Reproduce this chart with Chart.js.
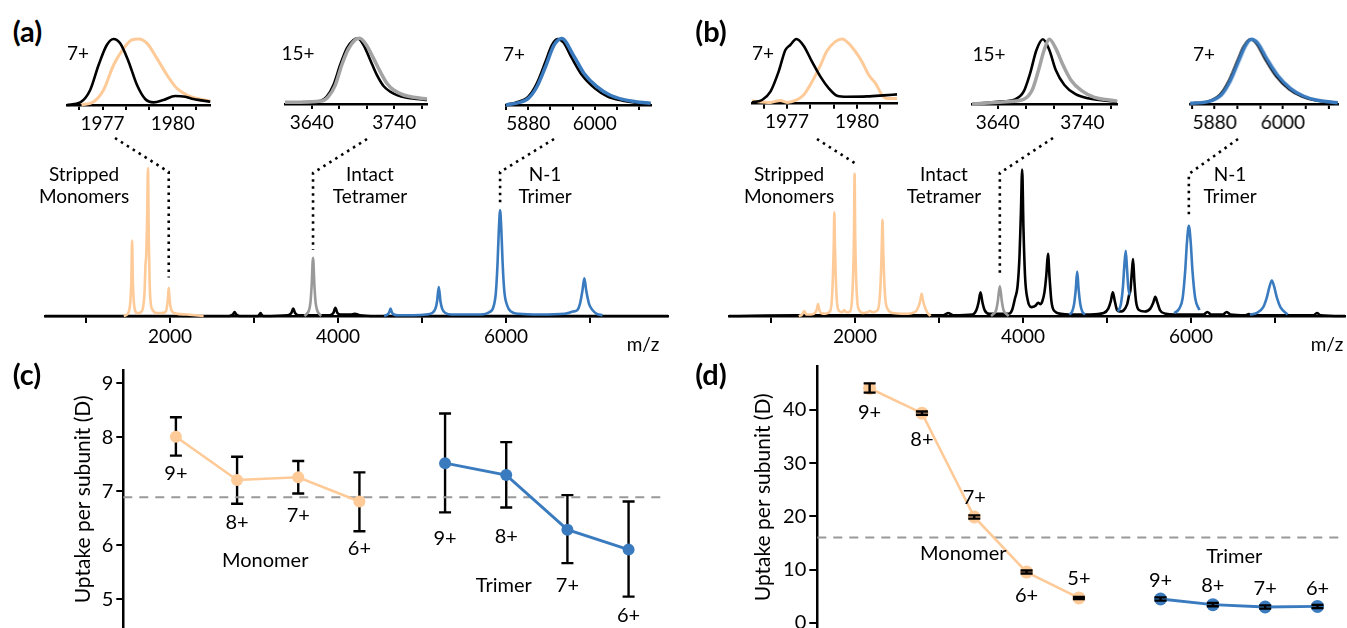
<!DOCTYPE html>
<html>
<head>
<meta charset="utf-8">
<title>Native MS and HDX uptake</title>
<script src="https://cdn.jsdelivr.net/npm/chart.js@4.4.1/dist/chart.umd.min.js"></script>
<style>
  html, body { margin: 0; padding: 0; background: #fff; }
  body { position: relative; width: 1347px; height: 628px; overflow: hidden; font-family: Lato, 'Open Sans', sans-serif; color: #000; }
  .panel { position: absolute; }
  .txt { position: absolute; transform: translate(-50%, -50%); white-space: nowrap; line-height: 1; text-align: center; }
</style>
</head>
<body>
<div class="panel" style="left:0;top:130px;width:673px;height:240px"><canvas id="specA"></canvas></div>
<div class="panel" style="left:680px;top:130px;width:667px;height:240px"><canvas id="specB"></canvas></div>
<div class="panel" style="left:0;top:340px;width:673px;height:310px"><canvas id="uptakeC"></canvas></div>
<div class="panel" style="left:680px;top:340px;width:667px;height:310px"><canvas id="uptakeD"></canvas></div>
<div id="insets"></div>
<div id="texts"></div>

<script>
const ORANGE = '#fdca98';
const BLUE = '#3a7bbf';
const GREY = '#a3a3a3';

// ---- full spectra: [m/z, relative intensity] ----
const specTicks = [1000, 2000, 3000, 4000, 5000, 6000, 7000];
const specTickLabels = [2000, 4000, 6000];

const specAOrange = [[1450,0],[1490,1],[1515,4],[1530,11],[1540,24],[1549,51],[1558,24],[1568,11],[1583,4],[1610,2],[1650,2.5],[1680,6],[1697,16],[1708,34],[1718,42],[1728,66],[1738,100],[1748,50],[1758,22],[1770,9],[1795,4],[1840,2],[1900,2],[1950,3],[1966,7],[1977,13],[1985,19],[1993,13],[2004,7],[2025,3],[2080,1.5],[2200,1],[2400,0]];
const specAGrey = [[3600,0],[3630,1.5],[3655,4],[3672,9],[3686,20],[3703,39.4],[3720,20],[3734,9],[3752,4],[3775,1.5],[3800,0]];
const specABlue = [[4550,0],[4590,1],[4610,2.5],[4626,5],[4642,2.5],[4665,1],[4720,0.5],[4900,0.5],[5050,1],[5120,2],[5160,5],[5180,10],[5200,19.6],[5220,10],[5240,5],[5280,2],[5350,1],[5500,1],[5700,1],[5800,2.5],[5850,6],[5880,16],[5900,36],[5915,58],[5930,71.4],[5945,58],[5960,36],[5980,17],[6015,7],[6060,3],[6150,1.5],[6400,1],[6700,1.5],[6800,3],[6850,4],[6880,8],[6910,17],[6933,25.5],[6956,17],[6990,8],[7030,4],[7080,1.5],[7150,0.5]];
const specABlack = [[512,0],[2700,0],[2750,1],[2769,2.7],[2788,1],[2830,0],[3050,0],[3065,1],[3077,2],[3090,1],[3110,0],[3400,0.5],[3445,2],[3467,5],[3489,2],[3530,0.5],[3900,0.5],[3945,2],[3969,5.5],[3993,2],[4030,1],[4150,1],[4200,1.5],[4260,0.5],[4450,0],[7929,0]];

const specBOrange = [[1330,0],[1370,1],[1396,3.4],[1420,1],[1480,1],[1530,2.5],[1548,5],[1560,8],[1572,5],[1595,2],[1650,1.5],[1700,3],[1722,9],[1738,28],[1747,48],[1754,70],[1761,48],[1770,28],[1786,9],[1810,3.5],[1850,2.5],[1872,4],[1895,2.5],[1940,3],[1963,10],[1979,30],[1988,56],[1995,96],[2002,56],[2011,30],[2027,10],[2050,4],[2100,2],[2150,2.5],[2179,3.4],[2210,2.5],[2270,4],[2295,13],[2311,32],[2319,48],[2327,65],[2335,48],[2343,32],[2359,13],[2385,5],[2450,2],[2600,1.5],[2720,3],[2760,7],[2779,11],[2793,15],[2807,11],[2826,7],[2860,2.5],[2900,0]];
const specBGrey = [[3620,0],[3650,1.5],[3680,4],[3700,10],[3724,20],[3748,10],[3768,4],[3800,1.5],[3830,0]];
const specBBlue = [[4550,1],[4585,3],[4608,8],[4628,18],[4645,30],[4662,18],[4682,8],[4705,3],[4740,1],[4741,null],
  [5130,3],[5165,8],[5190,20],[5206,34],[5223,44],[5238,32],[5252,20],[5270,14],[5271,null],
  [5800,2],[5860,5],[5900,12],[5930,30],[5952,50],[5974,61],[5996,50],[6018,30],[6050,12],[6100,4],[6101,null],
  [6700,1],[6780,2],[6860,6],[6900,12],[6935,20],[6962,24],[6989,20],[7024,12],[7064,6],[7150,1]];
const specBBlack = [[500,0],[1300,0.5],[2900,0.5],[3050,0.5],[3090,1.5],[3110,2],[3130,1.5],[3170,0.5],[3400,1],[3445,4],[3470,9],[3494,16],[3518,9],[3543,4],[3600,1.5],[3830,1.5],[3870,4],[3905,12],[3935,20],[3958,40],[3975,70],[3990,99],[4005,60],[4025,26],[4055,11],[4100,6],[4150,7],[4180,9],[4205,8],[4230,10],[4255,16],[4278,28],[4297,42],[4316,26],[4338,10],[4370,3.5],[4450,1.5],[4550,1],[4800,1],[4960,2],[5015,5],[5045,10],[5069,16],[5093,10],[5120,4],[5150,3],[5240,8],[5262,14],[5280,18],[5296,30],[5310,38.5],[5325,24],[5345,10],[5380,4],[5450,3],[5515,5],[5550,9],[5575,13],[5600,9],[5630,4],[5700,1.5],[5800,1],[6150,1],[6194,2.7],[6240,1],[6380,1],[6425,2.7],[6470,1],[6650,0.5],[6690,1.4],[6730,0.5],[7460,0.5],[7499,2],[7540,0.5],[7833,0]];

// ---- zoomed charge states: [m/z, % of max] ----
const ticks1977 = [1976, 1977, 1978, 1979, 1980, 1981];
const labels1977 = [1977, 1980];
const ticks3640 = [3640, 3673.33, 3706.67, 3740, 3773.33];
const labels3640 = [3640, 3740];
const ticks5880 = [5840, 5880, 5920, 5960, 6000, 6040, 6080];
const labels5880 = [5880, 6000];

const inA1Black = [[1975.48,0],[1976.05,4],[1976.47,22.7],[1976.83,60.6],[1977.18,90.9],[1977.47,100],[1977.75,93.4],[1978.11,65.7],[1978.47,30.3],[1978.82,9.1],[1979.18,4],[1979.6,7.6],[1980.1,13.6],[1980.53,12.6],[1980.88,9.1],[1981.6,5]];
const inA1Orange = [[1976.1,0],[1976.62,5],[1977.04,22.7],[1977.47,60.6],[1977.9,85.9],[1978.25,98.5],[1978.54,100],[1978.9,93.4],[1979.32,70.7],[1979.75,45.5],[1980.17,25.3],[1980.6,15.2],[1981.03,10.1],[1981.6,6.1]];
const inA2Black = [[3607.6,2.5],[3650.1,4.6],[3658.2,11.2],[3666.3,28.9],[3674.4,59.4],[3682.5,84.8],[3690.6,97.5],[3695.5,100],[3702.8,89.8],[3710.9,67],[3718.9,44.2],[3727,27.4],[3735.1,18.8],[3743.2,13.7],[3755.4,9.6],[3767.5,7.6],[3779.7,6.1]];
const inA2Grey = [[3607.6,2.5],[3652.1,4.6],[3660.2,11.2],[3668.3,27.9],[3676.4,59.4],[3684.5,83.8],[3692.6,97.5],[3697.9,100],[3706.8,88.8],[3714.9,69.5],[3723,49.2],[3731.1,31.5],[3739.2,21.3],[3751.3,13.7],[3763.5,10.2],[3779.7,7.6]];
const inA3Black = [[5839.7,0.5],[5856.7,3.5],[5880,12.5],[5895.5,32.5],[5911,65],[5922.6,90],[5932.7,99],[5943.6,94],[5957.5,72.5],[5976.9,45],[6000.2,25],[6023.4,12.5],[6050.5,6.5],[6073.8,3.5],[6101,2]];
const inA3Blue = [[5839.7,0],[5856.7,2.5],[5880,10],[5895.5,27.5],[5911,57.5],[5926.5,90],[5940.5,100],[5961.4,75],[5980.8,47.5],[6004,27.5],[6027.3,15],[6050.5,8.5],[6073.8,5],[6101,2.5]];

const inB1Black = [[1975.5,2],[1975.93,5.7],[1976.29,18.6],[1976.64,49.5],[1976.93,83],[1977.14,90.7],[1977.4,100],[1977.71,89.7],[1978.07,65],[1978.43,41.8],[1978.79,23.7],[1979.14,12.4],[1979.57,10.8],[1980.43,11.3],[1981.14,12.9],[1981.71,14.4]];
const inB1Orange = [[1975.5,4],[1976.29,2],[1976.71,5],[1977,2],[1977.36,5],[1977.71,13.4],[1978.07,34],[1978.43,59.3],[1978.71,81.4],[1979.07,95.9],[1979.36,100],[1979.64,93.3],[1979.93,80.4],[1980.21,64.9],[1980.5,44.3],[1980.79,31.4],[1981.07,13.4],[1981.29,8.2],[1981.71,8.2]];
const inB2Black = [[3609.5,0],[3640,3.6],[3660.3,7.2],[3670.5,19],[3678.1,47],[3685.7,83.5],[3693.3,100],[3700.9,83.5],[3708.5,52.6],[3718.7,29.4],[3731.4,15.5],[3746.6,8.8],[3766.9,5.2],[3781,3.6]];
const inB2Grey = [[3609.5,0],[3650.2,3.6],[3670.5,7.2],[3680.6,21.6],[3688.2,52.6],[3694.8,83.5],[3700.9,100],[3708.5,86],[3716.1,62.9],[3726.3,37.1],[3739,20.6],[3754.2,10.3],[3772,6.2],[3781,4.6]];
const inB3Black = [[5836.7,1],[5866.6,3.6],[5889.4,14.5],[5904.6,35],[5919.8,66],[5931.2,89],[5942.5,100],[5953.9,93],[5969.1,69],[5988.1,43],[6010.9,23],[6033.7,11.5],[6056.4,5.8],[6096.4,1.8]];
const inB3Blue = [[5836.7,1],[5868.6,3.6],[5891.4,13.9],[5906.6,34.5],[5921.8,65.5],[5933.2,88.7],[5944.5,100],[5955.9,93.8],[5971.1,70.6],[5990.1,44.8],[6012.9,24.2],[6035.7,12.4],[6058.4,6.2],[6096.4,2]];

// ---- panel (c): uptake per subunit ----
const cMonoX = [1, 2, 3, 4];
const cMonoY = [8.01, 7.21, 7.26, 6.81];
const cMonoHi = [8.37, 7.64, 7.56, 7.35];
const cMonoLo = [7.66, 6.77, 6.96, 6.26];
const cTrimX = [5.4, 6.4, 7.4, 8.4];
const cTrimY = [7.52, 7.30, 6.29, 5.92];
const cTrimHi = [8.44, 7.91, 6.93, 6.81];
const cTrimLo = [6.61, 6.70, 5.67, 5.05];
const cRef = 6.89;
const cMonoCharges = ['9+', '8+', '7+', '6+'];
const cTrimCharges = ['9+', '8+', '7+', '6+'];
const cMonoTagY = [7.32, 6.43, 6.55, 5.94];
const cTrimTagY = [6.13, 6.17, 5.26, 4.69];

// ---- panel (d) ----
const dMonoX = [1, 2, 3, 4, 5];
const dMonoY = [44.07, 39.4, 19.9, 9.56, 4.7];
const dMonoHi = [45.0, 39.7, 20.2, 9.85, 4.9];
const dMonoLo = [43.25, 39.1, 19.6, 9.3, 4.5];
const dTrimX = [6.56, 7.56, 8.56, 9.56];
const dTrimY = [4.5, 3.44, 3.0, 3.1];
const dTrimHi = [4.8, 3.75, 3.3, 3.4];
const dTrimLo = [4.2, 3.15, 2.7, 2.8];
const dRef = 16.06;
const dMonoCharges = ['9+', '8+', '7+', '6+', '5+'];
const dTrimCharges = ['9+', '8+', '7+', '6+'];
const dMonoTagY = [39.5, 34.5, 23.6, 5.1, 8.3];
const dTrimTagY = [8.0, 7.0, 6.4, 6.4];

Chart.defaults.font.family = "Lato, 'Open Sans', sans-serif";
Chart.defaults.color = '#000';
Chart.defaults.animation = false;
Chart.defaults.plugins.legend.display = false;
Chart.defaults.plugins.tooltip.enabled = false;

const pts = arr => arr.map(([x, y]) => ({ x, y }));

function trace(data, color, width) {
  return {
    data: pts(data), borderColor: color, borderWidth: width, pointRadius: 0,
    fill: false, cubicInterpolationMode: 'monotone', clip: false
  };
}

function mzAxis(min, max, ticks, labels, height, tickLen) {
  return {
    type: 'linear', min, max,
    afterBuildTicks: s => { s.ticks = ticks.map(v => ({ value: v })); },
    afterFit: s => { s.height = height; },
    grid: { drawOnChartArea: false, drawTicks: true, tickLength: tickLen, color: '#000', lineWidth: 2 },
    border: { display: true, color: '#000', width: 2.5 },
    ticks: {
      color: '#000', font: { size: 19 }, padding: 2, maxRotation: 0, autoSkip: false,
      callback: v => {
        const hit = labels.find(l => Math.abs(l - v) < 0.01);
        return hit === undefined ? '' : String(hit);
      }
    }
  };
}

// dotted leader lines from the zoom windows down to their peaks
function connectors(lines, left, top) {
  return {
    id: 'connectors',
    afterDatasetsDraw(chart) {
      const { ctx, scales: { x, y } } = chart;
      ctx.save();
      ctx.setLineDash([2.5, 4.5]);
      ctx.lineWidth = 2.6;
      ctx.strokeStyle = '#000';
      lines.forEach(c => {
        const px = x.getPixelForValue(c.mz);
        ctx.beginPath();
        ctx.moveTo(c.from[0] - left, c.from[1] - top);
        ctx.lineTo(px, c.knee - top);
        ctx.lineTo(px, y.getPixelForValue(c.end));
        ctx.stroke();
      });
      ctx.restore();
    }
  };
}

function spectrum(id, min, max, sets, padLeft, padRight, lines, left) {
  return new Chart(document.getElementById(id), {
    type: 'line',
    data: { datasets: sets.map(([d, c, w]) => trace(d, c, w)) },
    options: {
      responsive: true, maintainAspectRatio: false,
      layout: { padding: { left: padLeft, right: padRight, top: 38, bottom: 0 } },
      scales: {
        x: mzAxis(min, max, specTicks, specTickLabels, 54, 7),
        y: { display: false, min: 0, max: 100 }
      }
    },
    plugins: [connectors(lines, left, 130)]
  });
}

spectrum('specA', 512, 7929,
  [[specAOrange, ORANGE, 2.6], [specAGrey, '#999', 2.6], [specABlue, BLUE, 2.6], [specABlack, '#000', 2.6]],
  45, 5,
  [{ mz: 1985, end: 26, knee: 172, from: [115, 138] },
   { mz: 3703, end: 44.6, knee: 173, from: [367, 139] },
   { mz: 5930, end: 75.7, knee: 172, from: [554, 139] }], 0);

spectrum('specB', 500, 7833,
  [[specBOrange, ORANGE, 2.6], [specBGrey, '#999', 2.6], [specBBlue, BLUE, 2.6], [specBBlack, '#000', 2.6]],
  49, 2,
  [{ mz: 1995, end: 103.4, knee: 163, from: [817, 139] },
   { mz: 3724, end: 26.4, knee: 173, from: [1053, 138] },
   { mz: 5974, end: 67, knee: 174, from: [1238, 139] }], 680);

// zoom windows
const insetBoxes = [
  { left: 66.7, right: 210, base: 105, top: 39, min: 1975.48, max: 1981.6, ticks: ticks1977, labels: labels1977, sets: [[inA1Black, '#000', 2.6], [inA1Orange, ORANGE, 3]] },
  { left: 285, right: 427, base: 104, top: 38.3, min: 3607.6, max: 3779.7, ticks: ticks3640, labels: labels3640, sets: [[inA2Grey, GREY, 3.5], [inA2Black, '#000', 2.6]] },
  { left: 505.6, right: 650.2, base: 105, top: 38.5, min: 5839.7, max: 6101, ticks: ticks5880, labels: labels5880, sets: [[inA3Blue, BLUE, 3.5], [inA3Black, '#000', 2.6]] },
  { left: 751.7, right: 896.7, base: 103.7, top: 39, min: 1975.5, max: 1981.71, ticks: ticks1977, labels: labels1977, sets: [[inB1Black, '#000', 2.6], [inB1Orange, ORANGE, 3]] },
  { left: 971.8, right: 1116.9, base: 104, top: 39.3, min: 3609.5, max: 3781, ticks: ticks3640, labels: labels3640, sets: [[inB2Grey, GREY, 3.5], [inB2Black, '#000', 2.6]] },
  { left: 1189.9, right: 1336.7, base: 104, top: 39.3, min: 5836.7, max: 6096.4, ticks: ticks5880, labels: labels5880, sets: [[inB3Blue, BLUE, 3.5], [inB3Black, '#000', 2.6]] }
];

const insetHost = document.getElementById('insets');
insetBoxes.forEach(b => {
  const div = document.createElement('div');
  div.className = 'panel';
  div.style.left = (b.left - 14) + 'px';
  div.style.top = '25px';
  div.style.width = (b.right - b.left + 28) + 'px';
  div.style.height = '115px';
  const cv = document.createElement('canvas');
  div.appendChild(cv);
  insetHost.appendChild(div);
  new Chart(cv, {
    type: 'line',
    data: { datasets: b.sets.map(([d, c, w]) => trace(d, c, w)) },
    options: {
      responsive: true, maintainAspectRatio: false,
      layout: { padding: { left: 14, right: 14, top: b.top - 25, bottom: 0 } },
      scales: {
        x: mzAxis(b.min, b.max, b.ticks, b.labels, 140 - b.base, 5),
        y: { display: false, min: 0, max: 100 }
      }
    }
  });
});

// error bars drawn through the chart's own scales
function errorBars(sets, onTop) {
  const draw = chart => {
    const { ctx, scales: { x, y } } = chart;
    ctx.save();
    ctx.strokeStyle = '#000';
    ctx.lineWidth = 2.4;
    sets.forEach(s => s.x.forEach((xv, i) => {
      const px = x.getPixelForValue(xv);
      const yh = y.getPixelForValue(s.hi[i]);
      const yl = y.getPixelForValue(s.lo[i]);
      ctx.beginPath();
      ctx.moveTo(px, yh); ctx.lineTo(px, yl);
      ctx.moveTo(px - 6, yh); ctx.lineTo(px + 6, yh);
      ctx.moveTo(px - 6, yl); ctx.lineTo(px + 6, yl);
      ctx.stroke();
    }));
    ctx.restore();
  };
  return onTop ? { id: 'errorBars', afterDatasetsDraw: draw } : { id: 'errorBars', beforeDatasetsDraw: draw };
}

function tags(list) {
  return {
    id: 'tags',
    afterDraw(chart) {
      const { ctx, scales: { x, y } } = chart;
      ctx.save();
      ctx.font = "20px Lato, 'Open Sans', sans-serif";
      ctx.fillStyle = '#000';
      ctx.textAlign = 'center';
      ctx.textBaseline = 'middle';
      list.forEach(t => ctx.fillText(t.text, x.getPixelForValue(t.x), y.getPixelForValue(t.y)));
      ctx.restore();
    }
  };
}

function uptake(id, cfg) {
  const series = (xs, ys, color, width, r) => ({
    data: xs.map((x, i) => ({ x, y: ys[i] })), borderColor: color, borderWidth: width,
    pointRadius: r, pointBackgroundColor: color, pointBorderWidth: 0, clip: false, order: 1
  });
  const tagList = [];
  cfg.monoCharges.forEach((t, i) => tagList.push({ text: t, x: cfg.monoX[i], y: cfg.monoTagY[i] }));
  cfg.trimCharges.forEach((t, i) => tagList.push({ text: t, x: cfg.trimX[i], y: cfg.trimTagY[i] }));
  cfg.groups.forEach(g => tagList.push(g));
  return new Chart(document.getElementById(id), {
    type: 'line',
    data: {
      datasets: [
        series(cfg.monoX, cfg.monoY, ORANGE, 2.6, cfg.r),
        series(cfg.trimX, cfg.trimY, BLUE, 2.8, cfg.r),
        { data: [{ x: cfg.xMin, y: cfg.ref }, { x: cfg.xMax, y: cfg.ref }], borderColor: '#999', borderWidth: 2,
          borderDash: [9, 7], pointRadius: 0, order: 3, clip: false }
      ]
    },
    options: {
      responsive: true, maintainAspectRatio: false,
      layout: { padding: cfg.pad },
      scales: {
        x: { type: 'linear', display: false, min: cfg.xMin, max: cfg.xMax },
        y: {
          position: 'left', min: cfg.yMin, max: cfg.yMax,
          afterBuildTicks: s => { s.ticks = cfg.yTicks.map(v => ({ value: v })); },
          afterFit: s => { s.width = cfg.axisWidth; },
          border: { display: true, color: '#000', width: 2.5 },
          grid: { drawOnChartArea: false, drawTicks: true, tickLength: cfg.tickLen, color: '#000', lineWidth: 2 },
          ticks: { color: '#000', font: { size: 20 }, padding: 3 },
          title: { display: true, text: 'Uptake per subunit (D)', color: '#000', font: { size: 21 }, padding: { top: 3, bottom: 4 } }
        }
      }
    },
    plugins: [
      errorBars([{ x: cfg.monoX, hi: cfg.monoHi, lo: cfg.monoLo }, { x: cfg.trimX, hi: cfg.trimHi, lo: cfg.trimLo }], cfg.barsOnTop),
      tags(tagList)
    ]
  });
}

uptake('uptakeC', {
  monoX: cMonoX, monoY: cMonoY, monoHi: cMonoHi, monoLo: cMonoLo,
  trimX: cTrimX, trimY: cTrimY, trimHi: cTrimHi, trimLo: cTrimLo,
  monoCharges: cMonoCharges, trimCharges: cTrimCharges, monoTagY: cMonoTagY, trimTagY: cTrimTagY,
  groups: [{ text: 'Monomer', x: 2.46, y: 5.71 }, { text: 'Trimer', x: 6.36, y: 5.26 }],
  ref: cRef, xMin: 0.14, xMax: 8.93, yMin: 4.45, yMax: 9.25, yTicks: [5, 6, 7, 8, 9],
  pad: { left: 67.7, right: 12, top: 29.8, bottom: 21 }, axisWidth: 55.6, tickLen: 7, r: 6, barsOnTop: false
});

uptake('uptakeD', {
  monoX: dMonoX, monoY: dMonoY, monoHi: dMonoHi, monoLo: dMonoLo,
  trimX: dTrimX, trimY: dTrimY, trimHi: dTrimHi, trimLo: dTrimLo,
  monoCharges: dMonoCharges, trimCharges: dTrimCharges, monoTagY: dMonoTagY, trimTagY: dTrimTagY,
  groups: [{ text: 'Monomer', x: 2.79, y: 13.0 }, { text: 'Trimer', x: 7.97, y: 12.4 }],
  ref: dRef, xMin: 0, xMax: 10, yMin: -1, yMax: 48.2, yTicks: [0, 10, 20, 30, 40],
  pad: { left: 67.7, right: 0, top: 26.3, bottom: 21.7 }, axisWidth: 69.6, tickLen: 8, r: 6.5, barsOnTop: true
});

// static annotations
const textItems = [
  ['(a)', 27.5, 30, 29, true], ['(b)', 711, 30, 29, true], ['(c)', 27, 373, 29, true], ['(d)', 711, 373, 29, true],
  ['7+', 78, 52, 19], ['15+', 298, 52, 19], ['7+', 514, 53, 19],
  ['7+', 763, 52, 19], ['15+', 989, 53, 19], ['7+', 1204, 53, 19],
  ['Stripped<br>Monomers', 84, 185, 19], ['Intact<br>Tetramer', 370, 185, 19], ['N-1<br>Trimer', 545, 185, 19],
  ['Stripped<br>Monomers', 789, 185, 19], ['Intact<br>Tetramer', 944, 185, 19], ['N-1<br>Trimer', 1230, 185, 19],
  ['m/z', 643, 343, 19], ['m/z', 1327, 343, 19]
];
const textHost = document.getElementById('texts');
textItems.forEach(([t, cx, cy, size, bold]) => {
  const el = document.createElement('div');
  el.className = 'txt';
  el.innerHTML = t;
  el.style.left = cx + 'px';
  el.style.top = cy + 'px';
  el.style.fontSize = size + 'px';
  if (bold) el.style.fontWeight = 'bold';
  if (t.includes('<br>')) el.style.lineHeight = '22px';
  textHost.appendChild(el);
});
</script>
</body>
</html>
